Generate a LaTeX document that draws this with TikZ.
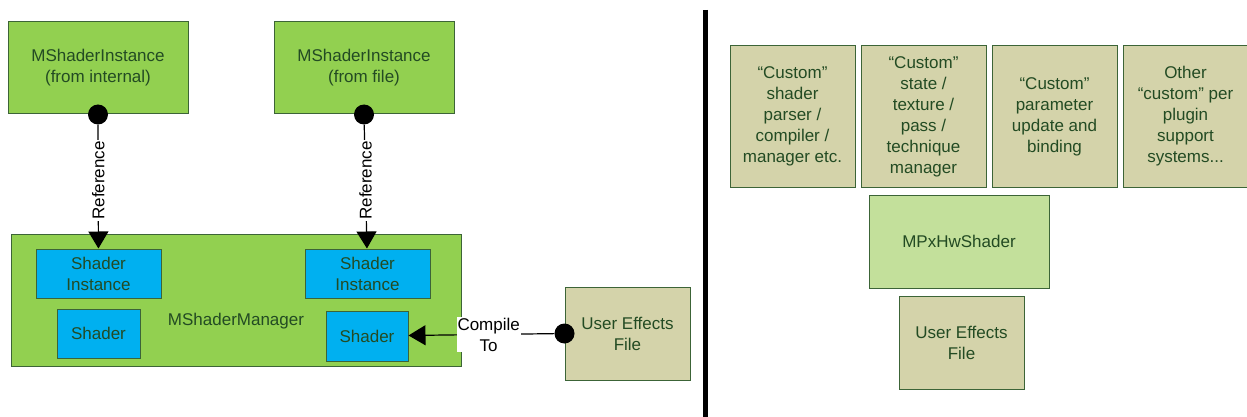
\documentclass[tikz,border=0pt]{standalone}
\usepackage{fontspec}
\setmainfont{Liberation Sans}
\usepackage{xcolor}
\usetikzlibrary{arrows.meta}
\definecolor{mgreen}{RGB}{146,208,80}
\definecolor{lightgreen}{RGB}{195,224,155}
\definecolor{shaderblue}{RGB}{0,176,240}
\definecolor{khaki}{RGB}{212,211,170}
\definecolor{edgegreen}{RGB}{60,100,55}
\definecolor{textgreen}{RGB}{35,75,35}

\tikzset{
	box/.style={rectangle,
		draw=edgegreen,
		line width=1pt,
		text=textgreen,
		align=center,
		inner sep=2pt,
		font=\fontsize{17}{21}\selectfont},
	greenbox/.style={box, fill=mgreen, minimum width=180pt, minimum height=92pt},
	bluebox/.style={box, fill=shaderblue, minimum height=49pt},
	khakibox/.style={box, fill=khaki, minimum width=125pt},
	dot/.style={circle, fill=black, inner sep=0pt, minimum size=20pt},
	refline/.style={-{Triangle[width=20pt,length=17pt]}, line width=1.2pt, black},
	linklabel/.style={fill=white, text=black, inner sep=1pt, align=center,
		font=\fontsize{17}{21}\selectfont}
}

\begin{document}
\begin{tikzpicture}[x=1pt,y=-1pt]
	\useasboundingbox (0,0) rectangle (1247,417);

	% left part
	\node[greenbox] (instint) at (98,68) {MShaderInstance\\(from internal)};
	\node[greenbox] (instfile) at (364,68) {MShaderInstance\\(from file)};

	\node[box, fill=mgreen, minimum width=450pt, minimum height=132pt] (mgr) at (236,300) {};
	\node[text=textgreen, font=\fontsize{17}{21}\selectfont] (mgrlabel) at (236,321) {MShaderManager};

	\node[bluebox, minimum width=125pt] (sileft) at (98.5,273.5) {Shader\\Instance};
	\node[bluebox, minimum width=125pt] (siright) at (367.5,273.5) {Shader\\Instance};
	\node[bluebox, minimum width=83pt] (shleft) at (98.5,333.5) {Shader};
	\node[bluebox, minimum width=82pt, minimum height=50pt] (shright) at (367,336) {Shader};

	\node[khakibox, minimum height=93pt] (effleft) at (627.5,333.5) {User Effects\\File};

	\node[dot] (dint) at (instint.south) {};
	\node[dot] (dfile) at (instfile.south) {};
	\node[dot] (deff) at (effleft.west) {};

	\draw[refline] (dint) -- (sileft)
		node[linklabel, rotate=90, pos=0.45] (refint) {Reference};
	\draw[refline] (dfile) -- (siright)
		node[linklabel, rotate=90, pos=0.45] (reffile) {Reference};
	\draw[refline] (deff) -- (shright)
		node[linklabel, pos=0.45] (compile) {Compile\\To};

	% divider
	\draw[line width=5pt] (705,10) -- (705,417);

	% right part
	\node[khakibox, minimum height=141pt] (custparser) at (792.5,116.5)
		{“Custom”\\shader\\parser /\\compiler /\\manager etc.};
	\node[khakibox, minimum height=141pt] (custstate) at (923.5,116.5)
		{“Custom”\\state /\\texture /\\pass /\\technique\\manager};
	\node[khakibox, minimum height=141pt] (custparam) at (1054.5,116.5)
		{“Custom”\\parameter\\update and\\binding};
	\node[khakibox, minimum height=141pt] (custother) at (1185.5,116.5)
		{Other\\“custom” per\\plugin\\support\\systems...};

	\node[box, fill=lightgreen, minimum width=180pt, minimum height=93pt] (hwshader) at (959,241.5) {MPxHwShader};
	\node[khakibox, minimum height=93pt] (effright) at (961.5,342.5) {User Effects\\File};
\end{tikzpicture}
\end{document}
